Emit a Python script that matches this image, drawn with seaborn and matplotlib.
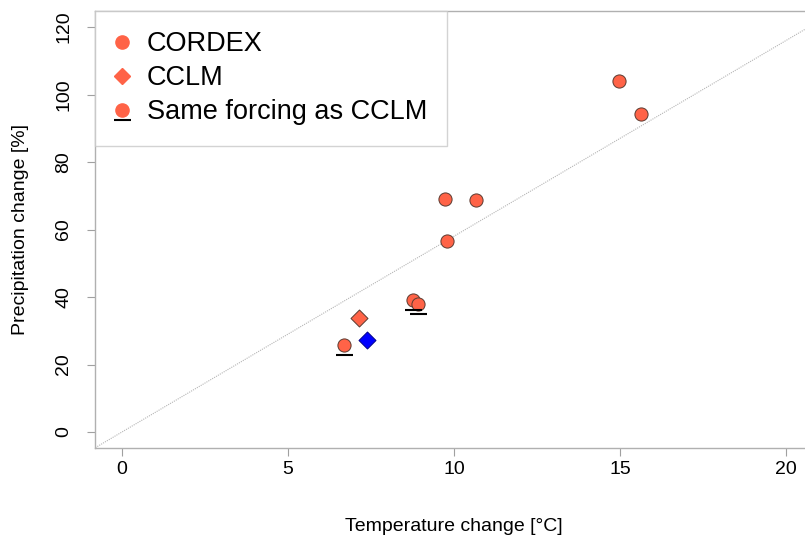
import matplotlib
matplotlib.use("Agg")
import matplotlib.pyplot as plt
import seaborn as sns
import pandas as pd
import numpy as np
from matplotlib.path import Path
from matplotlib.lines import Line2D
from matplotlib.legend_handler import HandlerTuple

# ---- data ----
cordex_temp = [6.69, 8.77, 8.92, 9.73, 10.66, 9.79, 14.97, 15.62]
cordex_precip = [25.8, 39.1, 37.9, 69.0, 68.7, 56.6, 104.0, 94.2]
same_forcing = [True, True, True, False, False, False, False, False]
cclm_temp = [7.14]
cclm_precip = [33.8]
other_temp = [7.38]
other_precip = [27.3]
ref_slope = 5.8

x_ticks = [0, 5, 10, 15, 20]
y_ticks = [0, 20, 40, 60, 80, 100, 120]
legend_labels = ["CORDEX", "CCLM", "Same forcing as CCLM"]

sns.set_style("white")
plt.rcParams['font.family'] = ['Liberation Sans', 'DejaVu Sans']
plt.rcParams['text.color'] = 'black'
plt.rcParams['axes.labelcolor'] = 'black'
plt.rcParams['xtick.color'] = 'black'
plt.rcParams['ytick.color'] = 'black'

W, H = 805, 538
fig = plt.figure(figsize=(W / 100, H / 100), dpi=100)
ax = fig.add_axes([95.4 / W, 1 - 448.2 / H, (812.6 - 95.4) / W, (448.2 - 10.8) / H])

ax.set_xlim(-0.8, 20.8)
ax.set_ylim(-4.8, 124.8)

tomato = "#FF6347"
edge = "#5a3a30"

ax.axline((0, 0), slope=ref_slope, color="#b5b5b5", lw=0.8, ls=(0, (1, 1)), zorder=1)

cordex = pd.DataFrame({"t": cordex_temp, "p": cordex_precip, "same": same_forcing})
sns.scatterplot(data=cordex, x="t", y="p", ax=ax, marker="o", s=90,
                color=tomato, edgecolor=edge, linewidth=0.7, zorder=3, legend=False)
sns.scatterplot(x=cclm_temp, y=cclm_precip, ax=ax, marker="D", s=75,
                color=tomato, edgecolor=edge, linewidth=0.7, zorder=3, legend=False)
sns.scatterplot(x=other_temp, y=other_precip, ax=ax, marker="D", s=75,
                color="#0000FF", edgecolor="#00008b", linewidth=0.7, zorder=3, legend=False)

# underline marker (segment below point centre)
under = Path([(-8.5, -10.0), (8.5, -10.0)], [Path.MOVETO, Path.LINETO])
sub = cordex[cordex["same"]]
ax.plot(sub["t"], sub["p"], ls="none", marker=under, markersize=14.4,
        markeredgecolor="black", markerfacecolor="none", markeredgewidth=1.5, zorder=4)

ax.set_xticks(x_ticks)
ax.set_yticks(y_ticks)
ax.set_xticklabels([str(v) for v in x_ticks], fontsize=14)
ax.set_yticklabels([str(v) for v in y_ticks], fontsize=14, rotation=90, va="center")
ax.tick_params(axis="x", length=5.5, width=0.8, color="#a0a0a0", labelcolor="black", pad=4, direction="out", bottom=True)
ax.tick_params(axis="y", length=5.5, width=0.8, color="#a0a0a0", labelcolor="black", pad=11, direction="out", left=True)
for sp in ax.spines.values():
    sp.set_color("#b0b0b0")
    sp.set_linewidth(1.0)

ax.set_xlabel("Temperature change [°C]", fontsize=14, labelpad=28.5, color="black")
ax.set_ylabel("Precipitation change [%]", fontsize=14, labelpad=19, color="black")

handles = [
    Line2D([], [], ls="none", marker="o", markersize=9.5, markerfacecolor=tomato, markeredgecolor=tomato),
    Line2D([], [], ls="none", marker="D", markersize=8, markerfacecolor=tomato, markeredgecolor=tomato),
    (Line2D([], [], ls="none", marker="o", markersize=9.5, markerfacecolor=tomato, markeredgecolor=tomato),
     Line2D([], [], ls="none", marker=under, markersize=14.4, markeredgecolor="black",
            markerfacecolor="none", markeredgewidth=1.5)),
]
leg = ax.legend(handles, legend_labels, loc="upper left", bbox_to_anchor=(0, 1),
                borderaxespad=0, fontsize=19.5, frameon=True, fancybox=False,
                edgecolor="#c8c8c8", labelspacing=0.3, borderpad=0.75,
                handlelength=0.44, handletextpad=0.7,
                handler_map={tuple: HandlerTuple(ndivide=1, pad=0)})
leg.get_frame().set_linewidth(1.0)
for t in leg.get_texts():
    t.set_color("black")

fig.savefig("out.png", dpi=100)
